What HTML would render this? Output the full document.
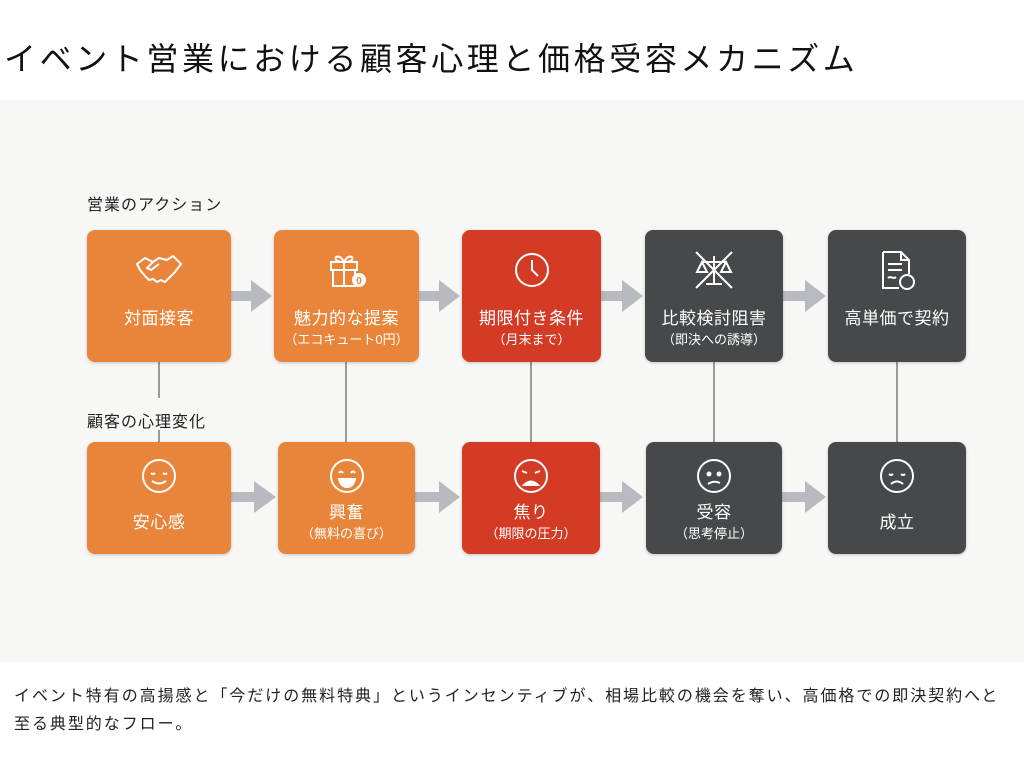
<!DOCTYPE html>
<html><head><meta charset="utf-8"><style>
body{margin:0;width:1024px;height:768px;background:#fff;position:relative;overflow:hidden;font-family:"Liberation Sans","Noto Sans CJK JP",sans-serif;}
.t{position:absolute;left:4px;top:34px;font-size:32px;color:#111;letter-spacing:3.6px;white-space:nowrap}
.bg{position:absolute;left:0;top:100px;width:1024px;height:562px;background:#f7f7f6}
.lab{position:absolute;font-size:16px;color:#222;white-space:nowrap;letter-spacing:1px}
.b{position:absolute;border-radius:8px;color:#fff;text-align:center;box-shadow:0 1px 3px rgba(0,0,0,.2)}
.o{background:#e9853b}.r{background:#d33b25}.d{background:#46484a}
.b svg{position:absolute;left:50%;transform:translateX(-50%)}
.m{position:absolute;left:0;right:0;font-size:17px;letter-spacing:.5px}
.s{position:absolute;left:0;right:0;font-size:13px}
.v{position:absolute;width:2px;background:#9a9a9a}
.f{position:absolute;left:14px;font-size:16px;color:#222;white-space:nowrap;letter-spacing:1.95px}
</style></head><body>
<div class="t">イベント営業における顧客心理と価格受容メカニズム</div>
<div class="bg"></div>
<div class="v" style="left:158px;top:362px;height:36px"></div>
<div class="v" style="left:158px;top:430px;height:12px"></div>
<div class="v" style="left:345px;top:362px;height:80px"></div>
<div class="v" style="left:530px;top:362px;height:80px"></div>
<div class="v" style="left:713px;top:362px;height:80px"></div>
<div class="v" style="left:896px;top:362px;height:80px"></div>
<div class="lab" style="left:87px;top:191px">営業のアクション</div>
<div class="lab" style="left:87px;top:408px">顧客の心理変化</div>
<svg width="1024" height="768" style="position:absolute;left:0;top:0">
<g fill="#b9b9c0">
<path d="M231 291h20v-11l21 16-21 16v-11h-20z"/>
<path d="M419 291h20v-11l21 16-21 16v-11h-20z"/>
<path d="M601 291h21v-11l21 16-21 16v-11h-21z"/>
<path d="M783 291h22v-11l21 16-21 16v-11h-22z"/>
<path d="M231 492h23v-11l22 16-22 16v-11h-23z"/>
<path d="M415 492h24v-11l21 16-21 16v-11h-24z"/>
<path d="M600 492h22v-11l21 16-21 16v-11h-22z"/>
<path d="M782 492h23v-11l21 16-21 16v-11h-23z"/>
</g></svg>
<div class="b o" style="left:87px;top:230px;width:144px;height:132px">
<svg width="50" height="40" style="top:22px" viewBox="0 0 50 40" fill="none" stroke="#fff" stroke-width="2"><path d="M3 12l8-6 8 4 6-4 8 2 6-4 8 8-6 8-10 10-4-2-4 2-4-3-4 1-4-4-5-6z"/><path d="M19 10l-6 6 4 2 8-6"/></svg>
<div class="m" style="top:74px">対面接客</div></div>
<div class="b o" style="left:274px;top:230px;width:145px;height:132px">
<svg width="40" height="40" style="top:20px" viewBox="0 0 40 40" fill="none" stroke="#fff" stroke-width="2"><rect x="4" y="12" width="26" height="8"/><rect x="6" y="20" width="22" height="16"/><path d="M17 12v24M17 12c-4-8-10-6-8-2 2 2 8 2 8 2 0 0 6 0 8-2 2-4-4-6-8 2"/><circle cx="32" cy="30" r="6" fill="#fff"/><text x="32" y="34" font-size="10" fill="#e9853b" stroke="none" text-anchor="middle" font-weight="bold">0</text></svg>
<div class="m" style="top:74px">魅力的な提案</div><div class="s" style="top:99px">（エコキュート0円）</div></div>
<div class="b r" style="left:462px;top:230px;width:139px;height:132px">
<svg width="40" height="40" style="top:20px" viewBox="0 0 40 40" fill="none" stroke="#fff" stroke-width="2"><circle cx="20" cy="20" r="16"/><path d="M20 10v10l6 6"/></svg>
<div class="m" style="top:74px">期限付き条件</div><div class="s" style="top:99px">（月末まで）</div></div>
<div class="b d" style="left:645px;top:230px;width:138px;height:132px">
<svg width="44" height="44" style="top:18px" viewBox="0 0 44 44" fill="none" stroke="#fff" stroke-width="2"><path d="M4 4l36 36M40 4L4 40M22 8v28M10 14h24M14 36h16M10 14l-5 10h10zM34 14l-5 10h10z"/></svg>
<div class="m" style="top:74px">比較検討阻害</div><div class="s" style="top:99px">（即決への誘導）</div></div>
<div class="b d" style="left:828px;top:230px;width:138px;height:132px">
<svg width="40" height="44" style="top:18px" viewBox="0 0 40 44" fill="none" stroke="#fff" stroke-width="2"><path d="M6 4h18l8 8v14M6 4v36h16M24 4v8h8M11 16h14M11 22h14M11 30c3-3 5 2 8-1"/><circle cx="30" cy="34" r="7"/></svg>
<div class="m" style="top:74px">高単価で契約</div></div>

<div class="b o" style="left:87px;top:442px;width:144px;height:112px">
<svg width="36" height="36" style="top:16px" viewBox="0 0 36 36" fill="none" stroke="#fff" stroke-width="2"><circle cx="18" cy="18" r="16"/><path d="M10 15q2 2 4 0M22 15q2 2 4 0M11 23q7 5 14 0"/></svg>
<div class="m" style="top:66px">安心感</div></div>
<div class="b o" style="left:278px;top:442px;width:137px;height:112px">
<svg width="36" height="36" style="top:16px" viewBox="0 0 36 36" fill="none" stroke="#fff" stroke-width="2"><circle cx="18" cy="18" r="16"/><path d="M10 15q2-3 4 0M22 15q2-3 4 0"/><path d="M10 21h16q-2 8-8 8t-8-8z" fill="#fff"/></svg>
<div class="m" style="top:56px">興奮</div><div class="s" style="top:81px">（無料の喜び）</div></div>
<div class="b r" style="left:462px;top:442px;width:138px;height:112px">
<svg width="36" height="36" style="top:16px" viewBox="0 0 36 36" fill="none" stroke="#fff" stroke-width="2"><circle cx="18" cy="18" r="16"/><path d="M9 13l5 2M27 13l-5 2"/><path d="M11 27q7-7 14 0z" fill="#fff"/></svg>
<div class="m" style="top:56px">焦り</div><div class="s" style="top:81px">（期限の圧力）</div></div>
<div class="b d" style="left:646px;top:442px;width:136px;height:112px">
<svg width="36" height="36" style="top:16px" viewBox="0 0 36 36" fill="none" stroke="#fff" stroke-width="2"><circle cx="18" cy="18" r="16"/><circle cx="13" cy="16" r="1.5" fill="#fff"/><circle cx="23" cy="16" r="1.5" fill="#fff"/><path d="M12 26q6-4 12-1"/></svg>
<div class="m" style="top:56px">受容</div><div class="s" style="top:81px">（思考停止）</div></div>
<div class="b d" style="left:828px;top:442px;width:138px;height:112px">
<svg width="36" height="36" style="top:16px" viewBox="0 0 36 36" fill="none" stroke="#fff" stroke-width="2"><circle cx="18" cy="18" r="16"/><path d="M10 16q2 2 4 0M22 16q2 2 4 0M12 26q6-5 12 0"/></svg>
<div class="m" style="top:66px">成立</div></div>

<div class="f" style="top:682px">イベント特有の高揚感と「今だけの無料特典」というインセンティブが、相場比較の機会を奪い、高価格での即決契約へと</div>
<div class="f" style="top:710px">至る典型的なフロー。</div>
</body></html>
